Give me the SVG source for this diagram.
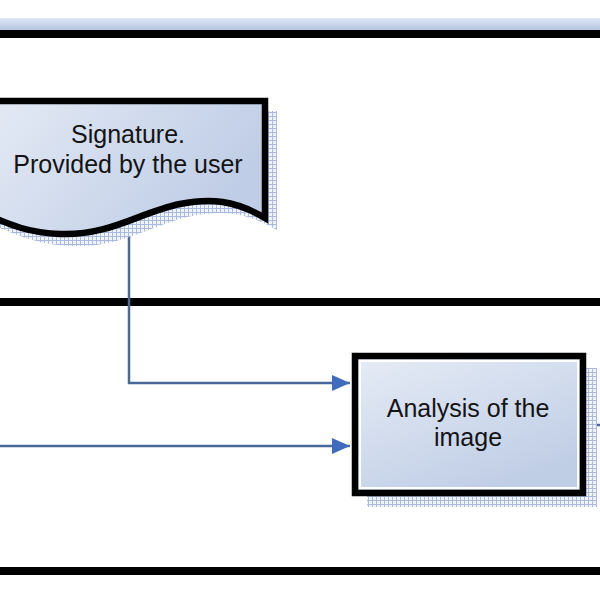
<svg xmlns="http://www.w3.org/2000/svg" width="600" height="600" viewBox="0 0 600 600">
<defs>
<style>
.lane{stroke:#000;stroke-width:8;fill:none}
.conn{stroke:#4a6898;stroke-width:2.5;fill:none}
.node{stroke:#000;stroke-width:6.5;stroke-linejoin:miter}
.lbl{font-family:"Liberation Sans",Arial,sans-serif;font-size:25px;fill:#141414;text-anchor:middle}
.shadow{fill:url(#hatch);stroke:none}
</style>
<linearGradient id="band" x1="0" y1="0" x2="0" y2="1">
<stop offset="0" stop-color="#dfe7f4"/>
<stop offset="1" stop-color="#b6c6e2"/>
</linearGradient>
<linearGradient id="docfill" x1="0" y1="0" x2="1" y2="0.4">
<stop offset="0" stop-color="#e4eaf5"/>
<stop offset="1" stop-color="#bfcde6"/>
</linearGradient>
<linearGradient id="boxfill" x1="0" y1="0" x2="0.6" y2="1">
<stop offset="0" stop-color="#e6ecf6"/>
<stop offset="1" stop-color="#bfcde5"/>
</linearGradient>
<pattern id="hatch" width="4" height="4" patternUnits="userSpaceOnUse">
<rect width="4" height="4" fill="#f0f3fa"/>
<path d="M0 0.5H4M0.5 0V4" stroke="#a9b9e0" stroke-width="1"/>
</pattern>
<marker id="arr" markerWidth="18" markerHeight="16" refX="18" refY="8" orient="auto" markerUnits="userSpaceOnUse">
<path d="M0 0L18 8L0 16Z" fill="#3f6cbc"/>
</marker>
</defs>
<rect width="600" height="600" fill="#fff"/>
<rect x="0" y="18" width="600" height="12" fill="url(#band)"/>
<g id="lanes">
<line class="lane" x1="0" y1="34" x2="600" y2="34"/>
<line class="lane" x1="0" y1="302" x2="600" y2="302"/>
<line class="lane" x1="0" y1="571" x2="600" y2="571"/>
</g>
<g id="connectors">
<polyline class="conn" points="129,224 129,383 350,383" marker-end="url(#arr)"/>
<line class="conn" x1="0" y1="446" x2="350" y2="446" marker-end="url(#arr)"/>
<line class="conn" x1="586" y1="425" x2="600" y2="425"/>
</g>
<g id="signature">
<path class="shadow" d="M0 111 H277 V230 C247 212,222 210,192 216 C152 224,122 248,72 246 C42 245,22 237,0 228 Z"/>
<path class="node" fill="url(#docfill)" d="M-10 101 H265 V218 C235 200,210 198,180 204 C140 212,110 236,60 234 C30 233,10 225,-10 216 Z"/>
<text class="lbl" x="128" y="143">Signature.</text>
<text class="lbl" x="128" y="173">Provided by the user</text>
</g>
<g id="analysis">
<rect class="shadow" x="367" y="368" width="230" height="139"/>
<rect class="node" fill="url(#boxfill)" x="355" y="356" width="228" height="137"/>
<rect x="360" y="361" width="218" height="127" fill="none" stroke="#fff" stroke-width="2"/>
<text class="lbl" x="468" y="417">Analysis of the</text>
<text class="lbl" x="468" y="446">image</text>
</g>
</svg>
